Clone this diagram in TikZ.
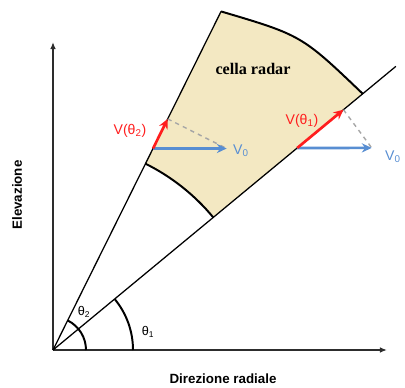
\documentclass[tikz,border=0pt]{standalone}
\usepackage{fontspec}
\setmainfont{Liberation Sans}
\newfontfamily\cellfont{Liberation Serif}
\usetikzlibrary{arrows.meta, calc}
\definecolor{cellfill}{RGB}{243,232,194}
\definecolor{vred}{RGB}{255,30,30}
\definecolor{vblue}{RGB}{88,142,210}
\definecolor{axisgray}{RGB}{45,45,45}

\begin{document}
\begin{tikzpicture}[
  x=0.025cm, y=0.025cm,
  every node/.style={font=\small},
  ray/.style={line width=0.9pt},
  axis/.style={-{Latex[length=5pt,width=4pt]}, line width=1.1pt, axisgray},
  arcline/.style={line width=1.4pt},
  vel/.style={-{Stealth[length=7pt,width=6.5pt]}, line width=1.9pt},
  proj/.style={dashed, gray!70, line width=1pt},
  vlabel/.style={font=\fontsize{10}{12}\selectfont},
  axlabel/.style={font=\fontsize{9.5}{11}\selectfont\bfseries},
  >=Stealth
]
\useasboundingbox (-53,-37) rectangle (352,350);

\def\thA{39.6}
\def\thB{63.6}

\coordinate (O) at (0,0);
\coordinate (xend) at (334,0);
\coordinate (yend) at (0,308);
\coordinate (r1end) at (\thA:445);
\coordinate (r2end) at (\thB:378);

% radar cell
\fill[cellfill] (\thB:208) -- (r2end) .. controls (248.6,314.7) .. (\thA:402)
  -- (\thA:208) arc[start angle=\thA, end angle=\thB, radius=208] -- cycle;
\draw[arcline] (r2end) .. controls (248.6,314.7) .. (\thA:402);
\draw[arcline] (\thA:208) arc[start angle=\thA, end angle=\thB, radius=208];

% axes and rays
\draw[axis] (O) -- (xend);
\draw[axis] (O) -- (yend);
\draw[ray] (O) -- (r1end);
\draw[ray] (O) -- (r2end);

% angles
\draw[arcline] (80,0) arc[start angle=0, end angle=\thA, radius=80];
\draw[arcline] (33,0) arc[start angle=0, end angle=\thB, radius=33];
\node (th1) at (95,18) {θ\textsubscript{1}};
\node (th2) at (31,38) {θ\textsubscript{2}};

% velocities
\coordinate (p2) at (\thB:225);
\coordinate (t2) at (\thB:258);
\coordinate (b2) at (173.7,201.5);
\coordinate (p1) at (\thA:317);
\coordinate (t1) at (\thA:377);
\coordinate (b1) at (318.7,202.1);

\draw[proj] (t2) -- (b2);
\draw[proj] (t1) -- (b1);
\draw[vel, vblue] (p2) -- (b2);
\draw[vel, vblue] (p1) -- (b1);
\draw[vel, vred] (p2) -- (t2);
\draw[vel, vred] (p1) -- (t1);

\node[vlabel, text=vred] (v2) at (77,219) {V(θ\textsubscript{2})};
\node[vlabel, text=vred] (v1) at (249,229) {V(θ\textsubscript{1})};
\node[vlabel, text=vblue] (v02) at (188,199) {V\textsubscript{0}};
\node[vlabel, text=vblue] (v01) at (340,193) {V\textsubscript{0}};

% labels
\node[font=\fontsize{11.5}{13}\selectfont\cellfont\bfseries] (cell) at (200,281) {cella radar};
\node[axlabel] (xlab) at (170,-29) {Direzione radiale};
\node[axlabel, rotate=90] (ylab) at (-36,155) {Elevazione};

\end{tikzpicture}
\end{document}
